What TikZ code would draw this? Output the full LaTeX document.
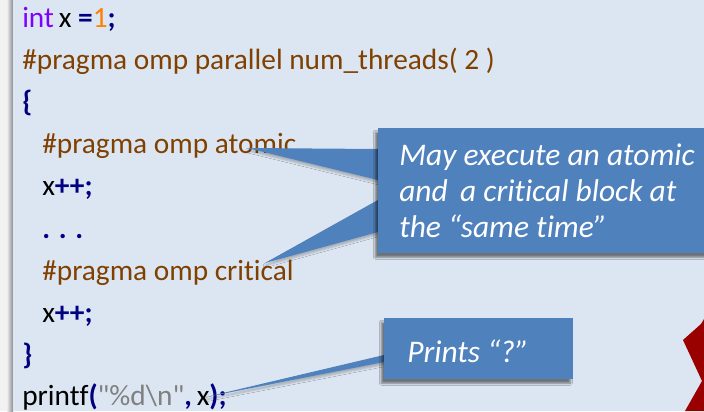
\documentclass[tikz,border=0pt]{standalone}
\usepackage{fontspec}
\setmainfont{Carlito}[Ligatures={ResetAll,NoCommon}]
\usetikzlibrary{calc,shadows.blur}

\definecolor{panelbg}{HTML}{DCE6F2}
\definecolor{calloutblue}{HTML}{4F81BD}
\definecolor{kwcol}{HTML}{8000FF}
\definecolor{opcol}{HTML}{000080}
\definecolor{numcol}{HTML}{FF8000}
\definecolor{ppcol}{HTML}{804000}
\definecolor{strcol}{HTML}{808080}
\definecolor{crossred}{HTML}{990000}

\newcommand\codefont{\fontsize{22}{26}\selectfont}
\newcommand\notefont{\fontsize{23.6}{28}\selectfont\itshape}
\newcommand\opb[1]{\textcolor{opcol}{\bfseries #1}}
\newcommand\ppd[1]{\textcolor{ppcol}{#1}}
% plain font instance without the TeX quote mapping, for straight string quotes
\font\rawcodefont="Carlito" at 22pt

\begin{document}
\begin{tikzpicture}[x=0.75pt,y=-0.75pt,
  code/.style={anchor=base west, inner sep=0pt, font=\codefont},
  note/.style={anchor=base west, inner sep=0pt, font=\notefont, text=white},
  noteshadow/.style={blur shadow={shadow xshift=-2.2pt, shadow yshift=-3pt,
      shadow blur radius=1.5pt, shadow opacity=50}},
  calloutbox/.style={fill=calloutblue, draw=none, inner sep=0pt,
      anchor=north west, noteshadow},
  wedge/.style={fill=calloutblue, draw=none,
      blur shadow={shadow xshift=0pt, shadow yshift=-2pt,
      shadow blur radius=1.5pt, shadow opacity=25}}]

% page, slide edge and panel
\useasboundingbox (0,0) rectangle (704,411);
\fill[white!95!black] (0,0) rectangle (704,411);
\shade[left color=white!92!black, right color=black!45] (7,0) rectangle (13,411);
\fill[panelbg] (13,0) rectangle (704,411);

% source code
\node[code] (l0) at (22,27)    {\textcolor{kwcol}{int}\,x \opb{=}\textcolor{numcol}{1}\opb{;}};
\node[code] (l1) at (22,69.2)  {\ppd{\#pragma omp parallel num\_threads( 2 )}};
\node[code] (l2) at (22,111.4) {\opb{\{}};
\node[code] (l3) at (42,153.6) {\ppd{\#pragma omp atomic}};
\node[code] (l4) at (42,195.8) {x\opb{++;}};
\node[code] (l5) at (42,238)   {\opb{.}\kern6.5pt\opb{.}\kern6.5pt\opb{.}};
\node[code] (l6) at (42,280.2) {\ppd{\#pragma omp critical}};
\node[code] (l7) at (42,322.4) {x\opb{++;}};
\node[code] (l8) at (22,364.6) {\opb{\}}};
\node[code] (l9) at (22,405.5) {printf\opb{(}\textcolor{strcol}{\rawcodefont"\%d\textbackslash n"}\opb{,}\,x\opb{);}};

% callout about atomic / critical
\coordinate (tipA) at (247,148);
\coordinate (tipB) at (265,263);
\coordinate (c1nw) at (378,128);
\fill[wedge] (tipA) -- ($(c1nw)+(0,21)$) -- ($(c1nw)+(0,52)$) -- cycle;
\fill[wedge] (tipB) -- ($(c1nw)+(0,72)$) -- ($(c1nw)+(0,104)$) -- cycle;
\node[calloutbox, minimum width={340*0.75pt}, minimum height={125*0.75pt}] (c1) at (c1nw) {};
\node[note] (c1a) at (399,165) {May execute an atomic};
\node[note] (c1b) at (399,201) {and\, a critical block at};
\node[note] (c1c) at (399,237) {the “same time”};

% callout about the printed value
\coordinate (tipC) at (206,397);
\coordinate (c2nw) at (384,318);
\fill[wedge] (tipC) -- ($(c2nw)+(0,37)$) -- ($(c2nw)+(0,44)$) -- cycle;
\node[calloutbox, minimum width={189*0.75pt}, minimum height={61*0.75pt}] (c2) at (c2nw) {};
\node[note] (c2a) at (407,362) {Prints “?”};

% red cross at the lower right
\fill[crossred] (704,319) -- (701,324) -- (683,340) -- (702,381) -- (685,411) -- (704,411) -- cycle;
\end{tikzpicture}
\end{document}
